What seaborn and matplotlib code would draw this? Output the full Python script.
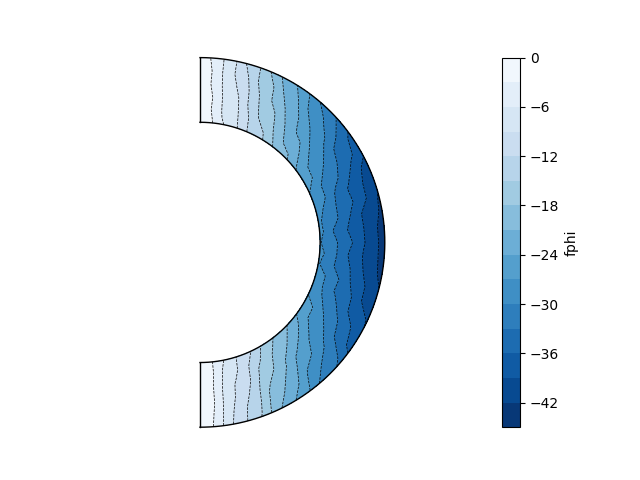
import numpy as np
import matplotlib
matplotlib.use("Agg")
import matplotlib.pyplot as plt
import seaborn as sns

# meridional cut: radii (outer radius = 1) and colatitudes of the samples
radius = [0.65, 0.72, 0.79, 0.86, 0.93, 1.00]
colat_deg = list(range(0, 181, 5))

# fphi, one list per radius, north pole -> south pole
fphi_r065 = [0.0, -2.3, -5.6, -7.0, -10.3, -13.2, -14.3, -16.7, -19.6, -20.2,
             -22.9, -24.7, -25.0, -26.7, -28.3, -28.0, -29.5, -28.8, -29.8,
             -29.0, -29.7, -28.3, -27.2, -27.3, -24.9, -24.5, -22.8, -20.3,
             -19.6, -16.5, -14.9, -12.0, -10.7, -7.3, -5.5, -2.4, 0.0]
fphi_r072 = [0.0, -3.1, -6.4, -8.0, -11.0, -14.5, -15.7, -19.1, -21.5, -22.5,
             -24.9, -27.3, -27.7, -29.9, -29.9, -31.6, -31.5, -32.9, -32.2,
             -31.8, -32.4, -30.6, -30.8, -29.7, -27.6, -27.3, -24.6, -23.2,
             -20.5, -19.4, -16.1, -14.3, -11.0, -8.2, -6.2, -2.3, 0.0]
fphi_r079 = [0.0, -3.0, -6.9, -8.7, -12.7, -15.8, -17.5, -20.6, -23.7, -24.8,
             -27.8, -28.6, -31.1, -31.7, -33.8, -33.9, -34.2, -35.6, -34.5,
             -35.4, -34.9, -33.5, -33.8, -31.7, -30.9, -28.7, -28.0, -25.0,
             -23.5, -20.5, -17.8, -15.8, -11.8, -9.6, -7.0, -2.7, 0.0]
fphi_r086 = [0.0, -3.8, -7.4, -9.7, -13.5, -17.3, -19.2, -22.9, -24.5, -27.8,
             -29.3, -32.2, -33.1, -34.3, -36.4, -36.1, -37.8, -38.1, -37.4,
             -38.5, -37.1, -36.9, -35.4, -35.4, -33.0, -32.0, -29.5, -27.2,
             -25.6, -21.9, -19.9, -17.4, -13.1, -10.1, -7.5, -2.8, 0.0]
fphi_r093 = [0.0, -3.7, -8.1, -10.7, -15.1, -17.6, -21.7, -24.0, -27.8, -29.6,
             -31.6, -34.6, -35.2, -37.7, -38.8, -38.9, -40.8, -40.2, -40.8,
             -40.1, -40.8, -39.2, -39.0, -37.2, -35.6, -34.6, -31.5, -30.0,
             -27.9, -23.9, -21.2, -18.8, -14.0, -11.5, -8.0, -3.2, 0.0]
fphi_r100 = [0.0, -4.5, -7.5, -12.4, -15.5, -20.2, -22.9, -25.8, -29.8, -31.3,
             -34.7, -36.7, -37.8, -40.5, -40.8, -42.3, -42.4, -43.9, -43.1,
             -43.7, -42.7, -41.9, -41.7, -39.3, -38.6, -37.2, -33.9, -31.8,
             -29.9, -25.6, -23.4, -20.1, -15.3, -12.0, -8.7, -3.6, 0.0]

levels = list(range(-45, 1, 3))
cbar_ticks = [0, -6, -12, -18, -24, -30, -36, -42]

field = np.array([fphi_r065, fphi_r072, fphi_r079,
                  fphi_r086, fphi_r093, fphi_r100])

rr, tt = np.meshgrid(radius, np.deg2rad(colat_deg), indexing="ij")
xx = rr * np.sin(tt)
yy = rr * np.cos(tt)

fig = plt.figure(figsize=(6.4, 4.8), dpi=100)
ax = fig.add_axes([0.3125, 0.11, 0.28875, 0.77])
cax = fig.add_axes([0.78375, 0.11, 0.0289, 0.77])

cmap = sns.color_palette("Blues_r", as_cmap=True)
cs = ax.contourf(xx, yy, field, levels=levels, cmap=cmap)
ax.contour(xx, yy, field, levels=levels[1:-1], colors="k",
           linewidths=0.5, linestyles="--")

# shell boundaries
th = np.linspace(0, np.pi, 400)
for r in (radius[0], radius[-1]):
    ax.plot(r * np.sin(th), r * np.cos(th), color="k", lw=1, clip_on=False)
ax.plot([0, 0], [radius[0], radius[-1]], color="k", lw=1, clip_on=False)
ax.plot([0, 0], [-radius[0], -radius[-1]], color="k", lw=1, clip_on=False)

ax.set_xlim(0, 1)
ax.set_ylim(-1, 1)
ax.set_aspect("equal")
ax.axis("off")

cb = fig.colorbar(cs, cax=cax, ticks=cbar_ticks)
cb.set_label("fphi")

fig.savefig("out.png", dpi=100)
